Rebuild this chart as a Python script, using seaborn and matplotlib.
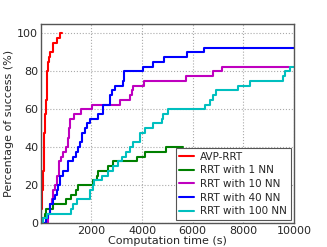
import pandas as pd
import numpy as np
import matplotlib
matplotlib.use("Agg")
import matplotlib.pyplot as plt
import seaborn as sns

# success curves (time in s, % of runs solved)
avp_t = [0, 20, 50, 80, 110, 140, 170, 200, 230, 260, 290, 320, 350, 460, 620, 750, 850]
avp_p = [0, 7.5, 17.5, 27.5, 37.5, 47.5, 57.5, 65, 72.5, 80, 85, 87.5, 90, 95, 97.5, 100, 100]

nn1_t = [0, 60, 160, 220, 490, 1010, 1210, 1380, 1480, 2070, 2200, 2270, 2660, 2860, 3780, 4120, 4950, 5630]
nn1_p = [0, 2.5, 5, 7.5, 10, 12.5, 15, 17.5, 20, 22.5, 25, 27.5, 30, 32.5, 35, 37.5, 40, 40]

nn10_t = [0, 290, 350, 420, 490, 550, 620, 700, 780, 880, 1010, 1080, 1110, 1140, 1300, 1600, 2030,
          3120, 3520, 3600, 3650, 4060, 5750, 6800, 7140, 9820]
nn10_p = [0, 5, 10, 12.5, 17.5, 20, 25, 32.5, 35, 37.5, 40, 45, 50, 55, 57.5, 60, 62.5,
          65, 67.5, 70, 72.5, 75, 77.5, 80, 82.5, 82.5]

nn40_t = [0, 220, 300, 360, 490, 560, 620, 680, 750, 880, 1080, 1280, 1380, 1470, 1540, 1610, 1740,
          1810, 1940, 2270, 2440, 2730, 2820, 2930, 3250, 3300, 4050, 4440, 4860, 5760, 6440, 10000]
nn40_p = [0, 2.5, 5, 10, 12.5, 15, 17.5, 20, 25, 27.5, 32.5, 35, 37.5, 40, 42.5, 47.5, 50,
          52.5, 55, 57.5, 62.5, 67.5, 70, 72.5, 75, 80, 82.5, 85, 87.5, 90, 92.5, 92.5]

nn100_t = [0, 90, 260, 1210, 1280, 1410, 1940, 2070, 2110, 2400, 2660, 2860, 3060, 3190, 3380, 3520,
           3650, 3910, 4110, 4440, 4770, 4840, 5030, 6480, 6680, 6810, 6900, 7800, 8260, 9580, 9650,
           9840, 10000]
nn100_p = [0, 2.5, 5, 7.5, 10, 12.5, 17.5, 20, 22.5, 25, 27.5, 30, 32.5, 35, 37.5, 40,
           42.5, 47.5, 50, 52.5, 55, 57.5, 60, 62.5, 65, 67.5, 70, 72.5, 75, 77.5, 80,
           82.5, 82.5]

names = ["AVP-RRT", "RRT with 1 NN", "RRT with 10 NN", "RRT with 40 NN", "RRT with 100 NN"]
colors = ["#ff0000", "#008000", "#bf00bf", "#0000ff", "#00bfbf"]

frames = []
for name, t, p in zip(names, [avp_t, nn1_t, nn10_t, nn40_t, nn100_t],
                      [avp_p, nn1_p, nn10_p, nn40_p, nn100_p]):
    frames.append(pd.DataFrame({"time": t, "pct": p, "method": name}))
df = pd.concat(frames, ignore_index=True)

sns.set_style("white")
plt.rcParams["font.family"] = ["DejaVu Sans"]

fig = plt.figure(figsize=(3.27, 2.47), dpi=100)
ax = fig.add_axes([0.125, 0.097, 0.774, 0.806])

sns.lineplot(data=df, x="time", y="pct", hue="method", hue_order=names,
             palette=dict(zip(names, colors)), estimator=None, sort=False,
             drawstyle="steps-post", linewidth=1.5, ax=ax)

ax.set_xlim(0, 10000)
ax.set_ylim(0, 105)
ax.set_xticks([2000, 4000, 6000, 8000, 10000])
ax.set_yticks([0, 20, 40, 60, 80, 100])
ax.tick_params(labelsize=8, direction="in", length=3, color="#555555", pad=2)
ax.grid(True, linestyle=":", color="#aaaaaa", linewidth=0.8)
for s in ax.spines.values():
    s.set_color("#555555")
    s.set_linewidth(1.0)
ax.set_xlabel("Computation time (s)", fontsize=8, labelpad=0)
ax.set_ylabel("Percentage of success (%)", fontsize=8, labelpad=2)

leg = ax.legend(loc="lower right", fontsize=7.5, fancybox=False, framealpha=1,
                edgecolor="#555555", borderaxespad=0.3, handlelength=1.4,
                handletextpad=0.6, labelspacing=0.35, borderpad=0.35)
leg.get_frame().set_linewidth(0.8)

fig.savefig("out.png", dpi=100)
